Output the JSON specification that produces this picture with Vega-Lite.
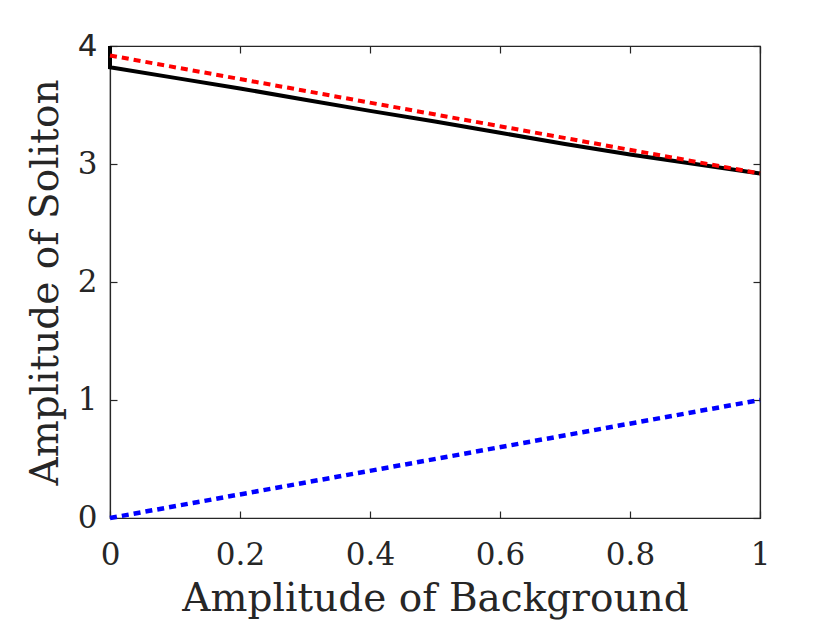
{
  "$schema": "https://vega.github.io/schema/vega-lite/v6.json",
  "width": 650,
  "height": 472,
  "autosize": {"type": "none"},
  "padding": {"left": 110, "top": 46, "right": 80, "bottom": 112},
  "background": "white",
  "config": {
    "view": {"stroke": "#262626", "strokeWidth": 1.2},
    "axis": {
      "domainColor": "#262626",
      "tickColor": "#262626",
      "labelColor": "#262626",
      "titleColor": "#262626",
      "labelFont": "DejaVu Serif",
      "titleFont": "DejaVu Serif",
      "labelFontSize": 31,
      "titleFontSize": 39,
      "titleFontWeight": "normal",
      "labelFlush": false,
      "grid": false,
      "tickSize": -7,
      "tickWidth": 1.2,
      "domainWidth": 1.2
    }
  },
  "data": {
    "values": [
      {"series": "numeric", "i": 0, "x": 0, "y": 4.0},
      {"series": "numeric", "i": 1, "x": 0, "y": 3.82},
      {"series": "numeric", "i": 2, "x": 0.1, "y": 3.73},
      {"series": "numeric", "i": 3, "x": 0.2, "y": 3.64},
      {"series": "numeric", "i": 4, "x": 0.3, "y": 3.545},
      {"series": "numeric", "i": 5, "x": 0.4, "y": 3.45},
      {"series": "numeric", "i": 6, "x": 0.5, "y": 3.36},
      {"series": "numeric", "i": 7, "x": 0.6, "y": 3.265},
      {"series": "numeric", "i": 8, "x": 0.7, "y": 3.17},
      {"series": "numeric", "i": 9, "x": 0.8, "y": 3.08},
      {"series": "numeric", "i": 10, "x": 0.9, "y": 3.0},
      {"series": "numeric", "i": 11, "x": 1.0, "y": 2.92},
      {"series": "upper", "i": 0, "x": 0, "y": 3.92},
      {"series": "upper", "i": 1, "x": 1.0, "y": 2.92},
      {"series": "lower", "i": 0, "x": 0, "y": 0.0},
      {"series": "lower", "i": 1, "x": 1.0, "y": 1.0}
    ]
  },
  "resolve": {"axis": {"x": "independent", "y": "independent"}},
  "layer": [
    {
      "transform": [{"filter": "datum.series == 'numeric'"}],
      "mark": {"type": "line", "color": "black", "strokeWidth": 4},
      "encoding": {
        "x": {
          "field": "x", "type": "quantitative",
          "scale": {"domain": [0, 1], "nice": false},
          "axis": {
            "orient": "bottom", "values": [0, 0.2, 0.4, 0.6, 0.8, 1], "format": "~g",
            "title": "Amplitude of Background", "labelPadding": 29, "titlePadding": 9
          }
        },
        "y": {
          "field": "y", "type": "quantitative",
          "scale": {"domain": [0, 4], "nice": false},
          "axis": {
            "orient": "left", "values": [0, 1, 2, 3, 4],
            "title": "Amplitude of Soliton", "labelPadding": 20, "titlePadding": 12,
            "labelFont": {"condition": {"test": "datum.value == 4", "value": "DejaVu Sans"}, "value": "DejaVu Serif"}
          }
        },
        "order": {"field": "i"}
      }
    },
    {
      "transform": [{"filter": "datum.series == 'upper'"}],
      "mark": {"type": "line", "color": "#ff0000", "strokeWidth": 4, "strokeDash": [7, 5]},
      "encoding": {
        "x": {
          "field": "x", "type": "quantitative",
          "scale": {"domain": [0, 1], "nice": false},
          "axis": {"orient": "top", "values": [0, 0.2, 0.4, 0.6, 0.8, 1], "labels": false, "title": null}
        },
        "y": {
          "field": "y", "type": "quantitative",
          "scale": {"domain": [0, 4], "nice": false},
          "axis": {"orient": "right", "values": [0, 1, 2, 3, 4], "labels": false, "title": null}
        },
        "order": {"field": "i"}
      }
    },
    {
      "transform": [{"filter": "datum.series == 'lower'"}],
      "mark": {"type": "line", "color": "#0000ff", "strokeWidth": 4.5, "strokeDash": [7, 5]},
      "encoding": {
        "x": {"field": "x", "type": "quantitative", "scale": {"domain": [0, 1], "nice": false}, "axis": null},
        "y": {"field": "y", "type": "quantitative", "scale": {"domain": [0, 4], "nice": false}, "axis": null},
        "order": {"field": "i"}
      }
    }
  ]
}
